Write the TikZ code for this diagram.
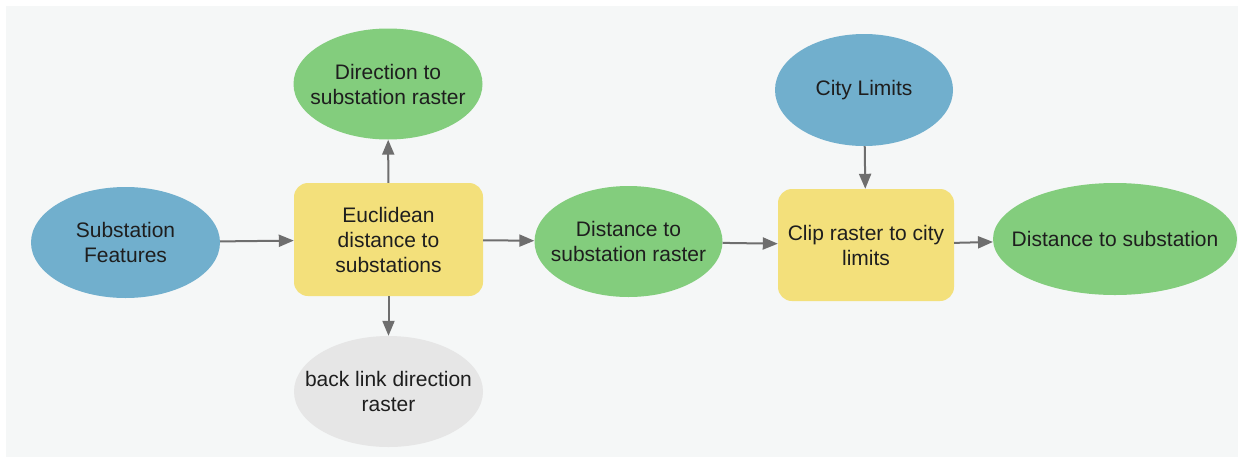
\documentclass[tikz,border=0pt]{standalone}
\usepackage{fontspec}
\setmainfont{Liberation Sans}
\usetikzlibrary{shapes.geometric,arrows.meta}

\definecolor{canvas}{HTML}{F5F7F7}
\definecolor{datablue}{HTML}{71AFCD}
\definecolor{datagreen}{HTML}{83CD7D}
\definecolor{toolyellow}{HTML}{F3E07B}
\definecolor{derivedgray}{HTML}{E6E6E6}
\definecolor{linkgray}{HTML}{6E6E6E}
\definecolor{labeltext}{HTML}{1E1E1E}

\tikzset{
  base/.style={inner sep=0pt, align=center, text=labeltext,
    font=\fontsize{21}{25}\selectfont},
  % negative x padding keeps the ellipse at its set size whatever the label width
  dataset/.style={base, ellipse, inner xsep=-60pt,
    minimum width=189pt, minimum height=111pt},
  inputdata/.style={dataset, fill=datablue},
  outputdata/.style={dataset, fill=datagreen},
  extradata/.style={dataset, fill=derivedgray},
  tool/.style={base, rectangle, rounded corners=14pt, fill=toolyellow},
  link/.style={draw=linkgray, line width=2pt,
    -{Triangle[length=15pt,width=12pt]}}
}

\begin{document}
\begin{tikzpicture}[x=1pt, y=-1pt]
  % canvas
  \fill[white] (0,0) rectangle (1238,458);
  \fill[canvas] (6,6) rectangle (1238,457);
  \useasboundingbox (0,0) rectangle (1238,458);

  % datasets and tools
  \node[inputdata] (features) at (125.5,242.5) {Substation\\Features};
  \node[tool, minimum width=189pt, minimum height=113pt] (euclid) at (388.5,239.5)
    {Euclidean\\distance to\\substations};
  \node[outputdata] (direction) at (388,84) {Direction to\\substation raster};
  \node[extradata] (backlink) at (388.5,391.5) {back link direction\\raster};
  \node[outputdata, minimum width=188pt] (distraster) at (628.5,241.5)
    {Distance to\\substation raster};
  \node[inputdata, minimum width=178pt, minimum height=112pt] (city) at (864,90) {City Limits};
  \node[tool, minimum width=176pt, minimum height=112pt] (clip) at (866,245)
    {Clip raster to city\\limits};
  \node[outputdata, minimum width=244pt, minimum height=112pt] (distance) at (1115,239)
    {Distance to substation};

  % connectors
  \draw[link] (features) -- (euclid);
  \draw[link] (euclid) -- (direction);
  \draw[link] (euclid) -- (backlink);
  \draw[link] (euclid) -- (distraster);
  \draw[link] (distraster) -- (clip);
  \draw[link] (city) -- (clip);
  \draw[link] (clip) -- (distance);
\end{tikzpicture}
\end{document}
